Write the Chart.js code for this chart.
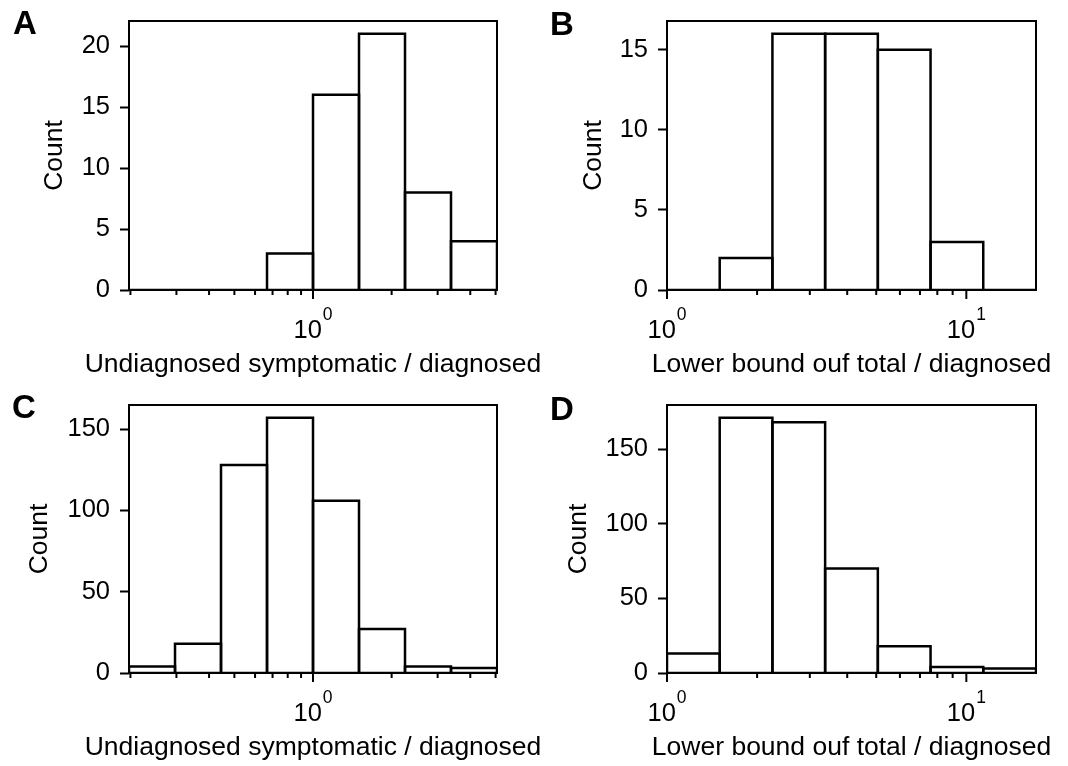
<!DOCTYPE html>
<html>
<head>
<meta charset="utf-8">
<script src="https://cdn.jsdelivr.net/npm/chart.js@4.4.1/dist/chart.umd.min.js"></script>
<style>
  body { margin: 0; background: #fff; }
  #fig { position: relative; width: 1068px; height: 766px; font-family: "Liberation Sans", Arial, sans-serif; color: #000; }
  canvas { position: absolute; }
  .panel { position: absolute; font-weight: bold; font-size: 33px; line-height: 33px; }
  .xtitle { position: absolute; font-size: 26.5px; line-height: 26.5px; white-space: nowrap; transform: translateX(-50%); }
</style>
</head>
<body>
<div id="fig">
  <canvas id="histA" width="534" height="383" style="left:0;top:0"></canvas>
  <canvas id="histB" width="534" height="383" style="left:534px;top:0"></canvas>
  <canvas id="histC" width="534" height="383" style="left:0;top:383px"></canvas>
  <canvas id="histD" width="534" height="383" style="left:534px;top:383px"></canvas>
  <div class="panel" style="left:13px;top:6px">A</div>
  <div class="panel" style="left:550px;top:7px">B</div>
  <div class="panel" style="left:12px;top:390px">C</div>
  <div class="panel" style="left:550px;top:392px">D</div>
  <div class="xtitle" id="titleA" style="left:313px;top:350px"></div>
  <div class="xtitle" id="titleB" style="left:851.5px;top:350px"></div>
  <div class="xtitle" id="titleC" style="left:313px;top:733px"></div>
  <div class="xtitle" id="titleD" style="left:851.5px;top:733px"></div>
</div>
<script>
// bin edges (log-spaced, x1.5 each) and counts
const edgesSym = [0.1975, 0.2963, 0.4444, 0.6667, 1, 1.5, 2.25, 3.375, 5.0625];
const edgesTot = [1, 1.5, 2.25, 3.375, 5.0625, 7.594, 11.39, 17.09];

const countsA = [0, 0, 0, 3, 16, 21, 8, 4];
const countsB = [0, 2, 16, 16, 15, 3, 0];
const countsC = [4, 18, 128, 157, 106, 27, 4, 3];
const countsD = [13, 171, 168, 70, 18, 4, 3];

const yTicksA = [0, 5, 10, 15, 20];
const yTicksB = [0, 5, 10, 15];
const yTicksBig = [0, 50, 100, 150];

const xMajorSym = [1];
const xMinorSym = [0.2, 0.3, 0.4, 0.5, 0.6, 0.7, 0.8, 0.9, 2, 3, 4, 5];
const xMajorTot = [1, 10];
const xMinorTot = [2, 3, 4, 5, 6, 7, 8, 9];

const xTitleSym = 'Undiagnosed symptomatic / diagnosed';
const xTitleTot = 'Lower bound ouf total / diagnosed';

const FONT = '"Liberation Sans", Arial, sans-serif';
Chart.defaults.font.family = FONT;
Chart.defaults.color = '#000';

function makeHist(id, edges, counts, yTicks, xMajor, xMinor, box) {
    // one closed outline per bin, like matplotlib's edged bars
    const datasets = counts.map((c, i) => ({
        data: [
            {x: edges[i], y: 0}, {x: edges[i], y: c},
            {x: edges[i + 1], y: c}, {x: edges[i + 1], y: 0}, {x: edges[i], y: 0}
        ],
        borderColor: '#000',
        borderWidth: 2.5,
        borderJoinStyle: 'miter',
        pointRadius: 0,
        fill: false,
        tension: 0
    }));

    // frame, log ticks (major/minor) and 10^k labels
    const frame = {
        id: 'frame',
        afterDatasetsDraw(chart) {
            const {ctx, chartArea: a} = chart;
            const x = chart.scales.x;
            ctx.save();
            ctx.strokeStyle = '#000';
            ctx.fillStyle = '#000';
            ctx.lineWidth = 2;
            ctx.strokeRect(a.left, a.top, a.right - a.left, a.bottom - a.top);
            xMajor.concat(xMinor).forEach(v => {
                const px = x.getPixelForValue(v);
                const len = xMajor.includes(v) ? 9 : 5;
                ctx.beginPath();
                ctx.moveTo(px, a.bottom);
                ctx.lineTo(px, a.bottom + len);
                ctx.stroke();
            });
            ctx.textBaseline = 'alphabetic';
            ctx.textAlign = 'left';
            xMajor.forEach(v => {
                const px = x.getPixelForValue(v);
                const exp = String(Math.round(Math.log10(v)));
                ctx.font = '25.5px ' + FONT;
                const w1 = ctx.measureText('10').width;
                ctx.font = '17.5px ' + FONT;
                const w2 = ctx.measureText(exp).width;
                const left = px - (w1 + 1 + w2) / 2;
                ctx.font = '25.5px ' + FONT;
                ctx.fillText('10', left, a.bottom + 47.5);
                ctx.font = '17.5px ' + FONT;
                ctx.fillText(exp, left + w1 + 1, a.bottom + 29.5);
            });
            ctx.restore();
        }
    };

    new Chart(document.getElementById(id), {
        type: 'line',
        data: {datasets},
        plugins: [frame],
        options: {
            responsive: false,
            animation: false,
            layout: {padding: {left: 0, top: box.top, right: 534 - box.right, bottom: 0}},
            plugins: {legend: {display: false}, tooltip: {enabled: false}},
            scales: {
                x: {
                    type: 'logarithmic',
                    min: edges[0],
                    max: edges[edges.length - 1],
                    afterBuildTicks: s => { s.ticks = xMajor.map(v => ({value: v})); },
                    afterFit: s => { s.height = 93; s.paddingLeft = 0; s.paddingRight = 0; },
                    grid: {display: false, drawTicks: false},
                    border: {display: false},
                    ticks: {display: false}
                },
                y: {
                    min: 0,
                    max: Math.max(...counts) * 1.05,
                    afterBuildTicks: s => { s.ticks = yTicks.map(v => ({value: v})); },
                    afterFit: s => { s.width = box.left; s.paddingTop = 0; s.paddingBottom = 0; },
                    grid: {drawOnChartArea: false, tickLength: 9, tickWidth: 2, tickColor: '#000'},
                    border: {display: false},
                    ticks: {padding: 10, font: {size: 25.5}, callback: v => String(v)},
                    title: {display: true, text: 'Count', font: {size: 26.5}, padding: {top: box.titlePad, bottom: 0}}
                }
            }
        }
    });
}

makeHist('histA', edgesSym, countsA, yTicksA, xMajorSym, xMinorSym,
    {left: 129, right: 497, top: 21, titlePad: 39});
makeHist('histB', edgesTot, countsB, yTicksB, xMajorTot, xMinorTot,
    {left: 133, right: 502, top: 21, titlePad: 44});
makeHist('histC', edgesSym, countsC, yTicksBig, xMajorSym, xMinorSym,
    {left: 129, right: 497, top: 22, titlePad: 24});
makeHist('histD', edgesTot, countsD, yTicksBig, xMajorTot, xMinorTot,
    {left: 133, right: 502, top: 22, titlePad: 29});

document.getElementById('titleA').textContent = xTitleSym;
document.getElementById('titleB').textContent = xTitleTot;
document.getElementById('titleC').textContent = xTitleSym;
document.getElementById('titleD').textContent = xTitleTot;
</script>
</body>
</html>
